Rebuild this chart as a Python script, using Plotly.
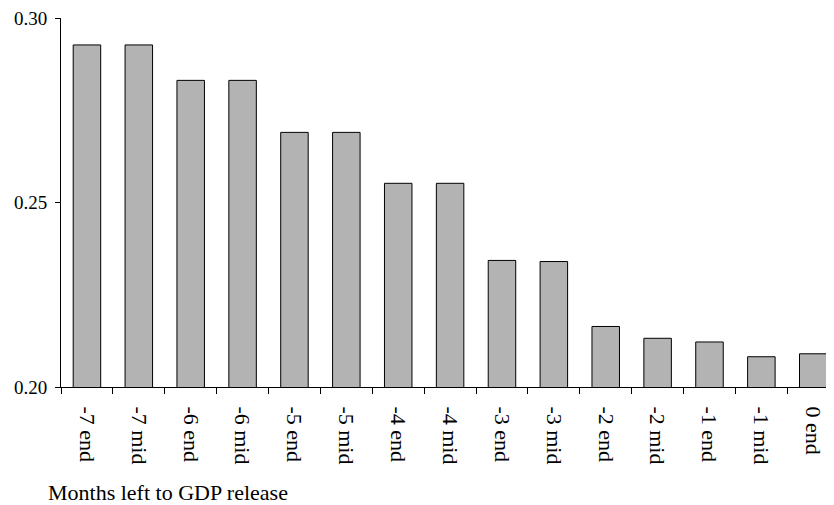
import plotly.graph_objects as go

# categories and values
categories = ["-7 end", "-7 mid", "-6 end", "-6 mid", "-5 end", "-5 mid", "-4 end", "-4 mid",
              "-3 end", "-3 mid", "-2 end", "-2 mid", "-1 end", "-1 mid", "0 end"]
values = [0.2927, 0.2927, 0.2831, 0.2831, 0.2690, 0.2690, 0.2552, 0.2552,
          0.2343, 0.2340, 0.2164, 0.2132, 0.2122, 0.2082, 0.2090]
y_ticks = [0.20, 0.25, 0.30]

FONT = "Liberation Serif"

fig = go.Figure(
    go.Bar(
        x=categories,
        y=values,
        width=0.53,
        marker=dict(color="#b3b3b3", line=dict(color="black", width=1)),
    )
)

# page body adds 8px, so the figure is drawn 8px smaller
fig.update_layout(
    width=826,
    height=497,
    margin=dict(l=53, r=0, t=8, b=118),
    plot_bgcolor="white",
    paper_bgcolor="white",
    font=dict(family=FONT, color="black", size=21),
    showlegend=False,
    xaxis=dict(
        range=[-0.5, 14.40],
        showline=True,
        linecolor="black",
        linewidth=1,
        showgrid=False,
        ticks="outside",
        tickson="boundaries",
        ticklen=6,
        tickcolor="black",
        tickangle=90,
        ticklabelstandoff=14,
        tickfont=dict(size=22),
    ),
    yaxis=dict(
        range=[0.20, 0.30],
        tickvals=y_ticks,
        tickformat=".2f",
        showline=True,
        linecolor="black",
        linewidth=1,
        showgrid=False,
        zeroline=False,
        ticks="outside",
        ticklen=5,
        tickcolor="black",
        ticklabelstandoff=4,
        ticklabeloverflow="allow",
        tickfont=dict(size=19),
    ),
)

# axis caption bottom left
fig.add_annotation(
    text="Months left to GDP release",
    xref="paper",
    yref="paper",
    x=-0.0194,
    y=-0.287,
    xanchor="left",
    yanchor="middle",
    showarrow=False,
    font=dict(family=FONT, size=22, color="black"),
)

fig.write_html("out.html")
